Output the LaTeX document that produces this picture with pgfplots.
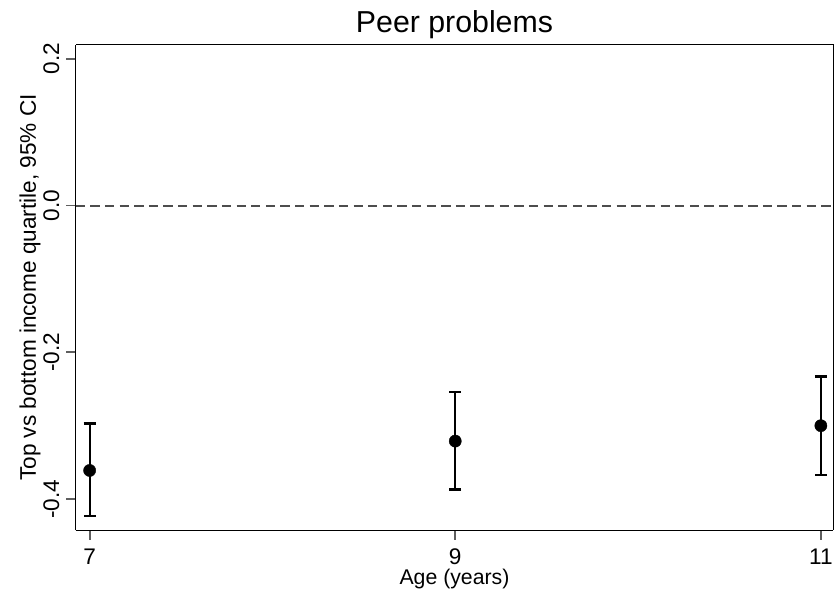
\documentclass[border=0pt]{standalone}
\usepackage{pgfplots}
\pgfplotsset{compat=1.18}
\usepackage{fontspec}
\setmainfont{Liberation Sans}
\definecolor{tickgray}{HTML}{5E5E5E}
\definecolor{dashgray}{HTML}{4D4D4D}
\begin{document}
\begin{tikzpicture}
\begin{axis}[
  name=ax,
  scale only axis,
  width=570pt, height=365.5pt,
  xmin=6.924, xmax=11.068,
  ymin=-0.4425, ymax=0.2194,
  xtick={7,9,11},
  ytick={-0.4,-0.2,0,0.2},
  axis x line*=bottom, axis y line*=left,
  tick align=outside,
  major tick length=7pt,
  tick style={tickgray, line width=1.3pt},
  axis line style={black, line width=1pt, -},
  x tick label style={font=\fontsize{17}{20}\selectfont, yshift=-3.5pt},
  y tick label style={font=\fontsize{17}{20}\selectfont, rotate=90, anchor=base, yshift=5.5pt, /pgf/number format/fixed, /pgf/number format/fixed zerofill, /pgf/number format/precision=1},
  /pgf/number format/assume math mode=true,
  xlabel={Age (years)},
  ylabel={Top vs bottom income quartile, 95\% CI},
  xlabel style={font=\fontsize{16}{19}\selectfont, at={(axis description cs:0.5,0)}, anchor=base, yshift=-41pt},
  ylabel style={font=\fontsize{17}{20}\selectfont, at={(axis description cs:-0.0605,0.5)}, anchor=center},
  title={Peer problems},
  title style={font=\fontsize{22.8}{26}\selectfont, at={(axis description cs:0.5,1)}, anchor=base, yshift=2.8pt},
  clip=false,
  after end axis/.code={\draw[black, line width=1pt] (rel axis cs:0,1) -- (rel axis cs:1,1) -- (rel axis cs:1,0);},
]
\addplot[dashgray, line width=1.5pt, dash pattern=on 7pt off 4pt, forget plot] coordinates {(6.924,0) (11.068,0)};
\addplot[black, only marks, mark=*, mark size=4.6pt, mark options={fill=black, draw=black, line width=0.3pt},
  error bars/.cd, y dir=both, y explicit,
  error bar style={black, line width=1.6pt},
  error mark options={black, line width=1.6pt, mark size=4.5pt, rotate=90}]
  table[x=x, y=y, y error plus=ep, y error minus=em] {
  x y ep em
  7 -0.361 0.064 0.062
  9 -0.321 0.067 0.066
  11 -0.300 0.067 0.067
};
\end{axis}
\path (ax.south west) ++(-57pt,-45pt) coordinate (bl);
\path (ax.north east) ++(0.75pt,33.5pt) coordinate (tr);
\path[use as bounding box] (bl) rectangle (tr);
\end{tikzpicture}
\end{document}
